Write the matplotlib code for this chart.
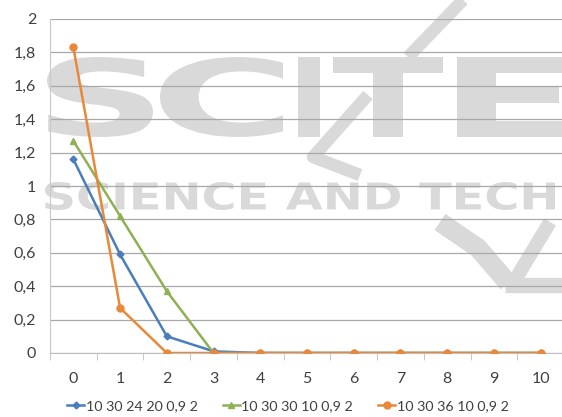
import matplotlib.pyplot as plt
import numpy as np
from matplotlib.textpath import TextPath
from matplotlib.patches import PathPatch
from matplotlib.font_manager import FontProperties
from matplotlib.transforms import Affine2D

x_labels = ['0', '1', '2', '3', '4', '5', '6', '7', '8', '9', '10']
blue_vals = [1.16, 0.59, 0.10, 0.01, 0, 0, 0, 0, 0, 0, 0]
green_vals = [1.27, 0.82, 0.37, 0.0, 0, 0, 0, 0, 0, 0, 0]
orange_vals = [1.83, 0.27, 0, 0, 0, 0, 0, 0, 0, 0, 0]
series_names = ['10 30 24 20 0,9 2', '10 30 30 10 0,9 2', '10 30 36 10 0,9 2']

plt.rcParams['font.family'] = ['Lato', 'DejaVu Sans']

W, H = 562, 417
fig = plt.figure(figsize=(W / 100, H / 100), dpi=100)
ax = fig.add_axes([50 / W, 1 - 353 / H, 514 / W, 334 / H])
ax.set_facecolor('none')

# faint watermark behind the chart, each piece fitted into a pixel box
wm = '#d9d9d9'
wm_font = FontProperties(family='DejaVu Sans', weight='bold')


def px(pts):
    return [(x / W, 1 - y / H) for x, y in pts]


def watermark(text, left, top, right, bottom):
    path = TextPath((0, 0), text, size=100, prop=wm_font)
    ext = path.get_extents()
    tr = (Affine2D().translate(-ext.x0, -ext.y0)
          .scale((right - left) / ext.width, (bottom - top) / ext.height)
          .translate(left, H - bottom).scale(1 / 100) + fig.dpi_scale_trans)
    ax.add_patch(PathPatch(path, transform=tr, color=wm, lw=0, zorder=0.2, clip_on=False))


def stroke(pts, width):
    xs, ys = zip(*px(pts))
    ax.plot(xs, ys, transform=fig.transFigure, color=wm, lw=width, solid_capstyle='butt',
            solid_joinstyle='round', zorder=0.2, clip_on=False)


for letter, box in zip('SCITE', [(47, 153), (160, 283), (298, 320), (333, 443), (457, 565)]):
    watermark(letter, box[0], 57, box[1], 137)
watermark('SCIENCE AND TECH', 45, 182, 555, 210)
stroke([(463, 0), (408, 57)], 9)
stroke([(368, 95), (313, 157), (360, 175)], 9)
stroke([(440, 222), (478, 248), (508, 283)], 14)
stroke([(550, 222), (515, 280)], 10)
stroke([(505, 285), (562, 285)], 11)

x = np.arange(len(x_labels))
ax.plot(x, blue_vals, color='#4a7ebb', marker='D', markersize=3.5, lw=1.8, label=series_names[0], zorder=3)
ax.plot(x, green_vals, color='#8db154', marker='^', markersize=5, lw=1.8, label=series_names[1], zorder=3)
ax.plot(x, orange_vals, color='#e8883a', marker='o', markersize=5, lw=1.8, label=series_names[2], zorder=3)

ax.set_xlim(-0.5, len(x_labels) - 0.5)
ax.set_ylim(0, 2)
yticks = np.arange(0, 2.01, 0.2)
ax.set_yticks(yticks)
ax.set_yticklabels([f'{v:.1f}'.replace('.', ',').replace(',0', '') for v in yticks])
ax.set_xticks(x)
ax.set_xticklabels(x_labels)
ax.set_xticks(np.arange(-0.5, len(x_labels), 1), minor=True)
ax.tick_params(axis='x', which='major', length=0, pad=14, labelsize=11.5, labelcolor='#404040')
ax.tick_params(axis='x', which='minor', length=5, color='#bfbfbf')
ax.tick_params(axis='y', length=0, pad=10, labelsize=11.5, labelcolor='#404040')
ax.yaxis.grid(True, color='#a8a8a8', lw=0.9)
ax.set_axisbelow(True)
for side in ['top', 'right']:
    ax.spines[side].set_visible(False)
ax.spines['left'].set_color('#c8c8c8')
ax.spines['bottom'].set_color('#bfbfbf')

ax.legend(loc='center', bbox_to_anchor=(288 / W, 1 - 406 / H), bbox_transform=fig.transFigure,
          ncol=3, frameon=False, fontsize=10.3, handlelength=1.2, handletextpad=0.1,
          columnspacing=1.75, labelcolor='#404040')

fig.savefig('out.png', dpi=100)
